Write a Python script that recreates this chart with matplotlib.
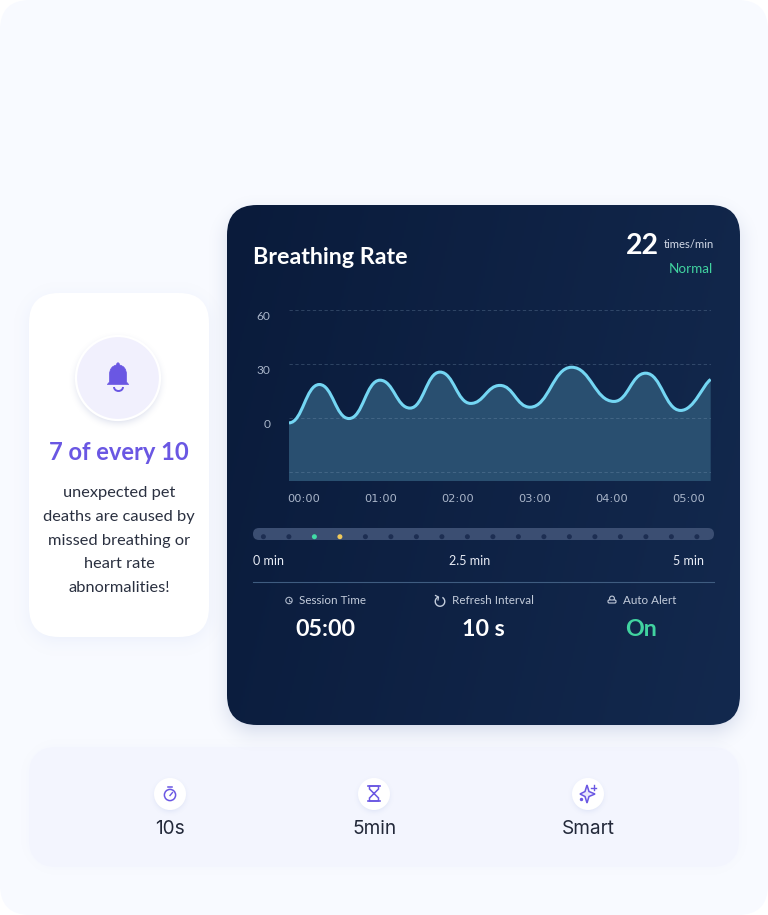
import numpy as np
import matplotlib
matplotlib.use("Agg")
import matplotlib.pyplot as plt
from matplotlib.patches import FancyBboxPatch, Circle, PathPatch, Arc, Polygon
from matplotlib.path import Path
from matplotlib.transforms import ScaledTranslation

# curve extrema (minutes, breaths value)
time_min = [-0.195, 0.199, 0.584, 0.987, 1.377, 1.766, 2.165, 2.545, 2.935, 3.476, 4.026, 4.437, 4.892, 5.282]
rate = [-2.7, 18.6, -0.3, 21.0, 5.5, 25.5, 8.1, 18.1, 6.0, 28.2, 9.2, 24.9, 4.2, 21.4]

y_ticks = [60, 30, 0, -30]
y_labels = ["60", "30", "0", ""]
x_ticks = [0, 1, 2, 3, 4, 5]
x_labels = ["00:00", "01:00", "02:00", "03:00", "04:00", "05:00"]

body_lines = ["unexpected pet", "deaths are caused by", "missed breathing or", "heart rate", "abnormalities!"]
stat_names = ["Session Time", "Refresh Interval", "Auto Alert"]
stat_values = ["05:00", "10 s", "On"]
feature_labels = ["10s", "5min", "Smart"]
slider_labels = ["0 min", "2.5 min", "5 min"]
dot_colors = ["#1d2e52", "#1d2e52", "#41dba6", "#f0c95a"] + ["#1d2e52"] * 14

W, H = 768, 915
PURPLE = "#6a57e3"
GREEN = "#41d3a0"
FONT = "Lato"

fig = plt.figure(figsize=(W / 100, H / 100), dpi=100, facecolor="white")
ax = fig.add_axes([0, 0, 1, 1])
ax.axis("off")


def rbox(x, y, w, h, r, **kw):
    p = FancyBboxPatch((x, y), w, h, boxstyle=f"round,pad=0,rounding_size={r}", linewidth=0, **kw)
    ax.add_patch(p)
    return p


def shadow(x, y, w, h, r, blur, alpha, color, zorder):
    xx, yy = np.meshgrid(np.arange(W) + 0.5, np.arange(H) + 0.5)
    dx = np.abs(xx - (x + w / 2)) - (w / 2 - r)
    dy = np.abs(yy - (y + h / 2)) - (h / 2 - r)
    sd = np.hypot(np.maximum(dx, 0), np.maximum(dy, 0)) + np.minimum(np.maximum(dx, dy), 0) - r
    a = np.clip(1 - (sd + blur * 0.3) / blur, 0, 1) ** 2 * alpha
    img = np.zeros((H, W, 4))
    img[..., :3] = matplotlib.colors.to_rgb(color)
    img[..., 3] = a
    ax.imshow(img, extent=(0, W, H, 0), aspect="auto", zorder=zorder, interpolation="bilinear")


def label(x, y, s, size, color, weight="normal", ha="center", family=FONT, zorder=10):
    ax.text(x, y, s, fontsize=size * 0.72, color=color, fontweight=weight, ha=ha, va="center_baseline",
            family=family, zorder=zorder)


rbox(0, 0, W, H, 30, facecolor="#f8faff", zorder=0)

# bottom panel
shadow(29, 747, 710, 120, 28, 16, 0.10, "#c9d4f5", 1)
rbox(29, 747, 710, 120, 28, facecolor="#f3f5fe", zorder=1.1)

# left card
shadow(29, 297, 180, 344, 30, 26, 0.35, "#d5def5", 2)
rbox(29, 293, 180, 344, 30, facecolor="white", zorder=2.1)

# main card
shadow(227, 213, 513, 520, 30, 30, 0.45, "#b4bed8", 3)
card = rbox(227, 205, 513, 520, 30, facecolor="none", zorder=3.1)
gx, gy = np.meshgrid(np.linspace(0, 1, 256), np.linspace(0, 1, 256))
grad = ax.imshow(0.8 * gx + 0.2 * gy, extent=(227, 740, 725, 205), aspect="auto", zorder=3.1,
                 cmap=matplotlib.colors.LinearSegmentedColormap.from_list("card", ["#0a1b3b", "#13294e"]),
                 vmin=0, vmax=1, interpolation="bilinear")
grad.set_clip_path(card)

# bell badge
shadow(75, 338, 86, 86, 43, 10, 0.55, "#cfd4e6", 3.9)
ax.add_patch(Circle((118, 378), 42, facecolor="#f1f0fd", edgecolor="white", linewidth=1.6, zorder=4.1))
bell = Path([(107.3, 384.5), (109.5, 382), (109.5, 380), (109.5, 375), (109.5, 369), (112, 366), (116.5, 365),
             (116.5, 362), (119.5, 362), (119.5, 365), (124, 366), (126.5, 369), (126.5, 375), (126.5, 380),
             (126.5, 382), (128.7, 384.5), (107.3, 384.5)],
            [Path.MOVETO, Path.LINETO, Path.LINETO, Path.LINETO, Path.CURVE4, Path.CURVE4, Path.CURVE4,
             Path.CURVE4, Path.CURVE4, Path.CURVE4, Path.CURVE4, Path.CURVE4, Path.CURVE4, Path.LINETO,
             Path.LINETO, Path.LINETO, Path.CLOSEPOLY])
ax.add_patch(PathPatch(bell, facecolor=PURPLE, edgecolor=PURPLE, linewidth=0.5, zorder=5))
ax.add_patch(Arc((118.5, 387), 9, 8, theta1=0, theta2=180, color=PURPLE, linewidth=1.4, zorder=5))

label(119, 450, "7 of every 10", 23.7, PURPLE, weight="bold")
for yy, line in zip([491, 515, 539, 563, 587], body_lines):
    label(119, yy, line, 16.4, "#2a3040")

# feature row
for cx, txt in zip([170, 374, 588], feature_labels):
    shadow(cx - 16, 780, 32, 32, 16, 7, 0.5, "#d3daf3", 4)
    ax.add_patch(Circle((cx, 794), 16, facecolor="white", edgecolor="none", zorder=4.5))
    label(cx, 826.5, txt, 19, "#23293a", family="Inter")

ax.add_patch(Circle((170, 795), 5.6, facecolor="none", edgecolor=PURPLE, linewidth=1.1, zorder=5))
ax.plot([168, 172], [786.5, 786.5], color=PURPLE, lw=1.1, zorder=5)
ax.plot([170, 172.5], [795.5, 792.5], color=PURPLE, lw=1.0, zorder=5)
ax.plot([368, 380], [786, 786], color=PURPLE, lw=1.2, zorder=5)
ax.plot([368, 380], [801, 801], color=PURPLE, lw=1.2, zorder=5)
ax.add_patch(Polygon([(369.5, 786), (378.5, 786), (378.5, 789), (369.5, 798), (369.5, 801), (378.5, 801),
                      (378.5, 798), (369.5, 789)], closed=True, facecolor="none", edgecolor=PURPLE,
                     linewidth=1.1, zorder=5))
star = [(587, 785), (589, 791.5), (595, 794), (589, 796.5), (587, 803), (585, 796.5), (580, 794), (585, 791.5)]
ax.add_patch(Polygon(star, closed=True, facecolor="#e9e7fb", edgecolor=PURPLE, linewidth=1.1, zorder=5))
ax.plot([593.5, 593.5], [785, 790], color=PURPLE, lw=1.0, zorder=5)
ax.plot([591, 596], [787.5, 787.5], color=PURPLE, lw=1.0, zorder=5)
ax.add_patch(Circle((581.5, 799.5), 1.0, color=PURPLE, zorder=5))

# card header
label(253, 256, "Breathing Rate", 23.2, "white", weight="bold", ha="left")
label(659, 243, "22", 28.5, "white", weight="bold", ha="right")
label(714, 243, "times/min", 11.2, "#d3dae8", ha="right")
label(713.5, 268, "Normal", 13.5, GREEN, ha="right")

# slider
rbox(253, 528, 461, 12, 6, facecolor="#3b4e72", zorder=4)
for i, c in enumerate(dot_colors):
    ax.add_patch(Circle((263.4 + 25.5 * i, 536.7), 2.5, facecolor=c, edgecolor="none", zorder=5))
for xx, s, a in zip([253, 469.5, 704], slider_labels, ["left", "center", "right"]):
    label(xx, 560, s, 12.5, "#e8ecf5", ha=a)
ax.plot([253, 714], [582, 582], color="#3f5c80", lw=0.8, zorder=5)

# stats row
for xx, s in zip([299, 452, 623], stat_names):
    label(xx, 600, s, 11.6, "#c3ccdb", ha="left")
for xx, s, c in zip([325, 483, 641], stat_values, ["white", "white", GREEN]):
    label(xx, 627, s, 23.3, c, weight="bold")
ax.add_patch(Circle((289, 600.5), 3.2, facecolor="none", edgecolor="#aab5c8", linewidth=0.8, zorder=5))
ax.plot([289, 289, 291], [598.5, 600.5, 600.5], color="#aab5c8", lw=0.6, zorder=5)
ax.add_patch(Arc((440, 601.5), 9.5, 9.5, theta1=-60, theta2=250, color="#c3ccdb", linewidth=1.0, zorder=5))
ax.plot([435.5, 438.5, 438], [595.5, 597, 600], color="#c3ccdb", lw=0.9, zorder=5)
ax.add_patch(Circle((612, 598.5), 2.4, facecolor="none", edgecolor="#c3ccdb", linewidth=0.8, zorder=5))
ax.add_patch(FancyBboxPatch((608, 600), 8, 3, boxstyle="round,pad=0,rounding_size=1.2", facecolor="#10234a",
                            edgecolor="#c3ccdb", linewidth=0.8, zorder=5.1))

ax.set_xlim(0, W)
ax.set_ylim(H, 0)

# breathing chart
chart = fig.add_axes([289 / W, 1 - 481 / H, 422 / W, 171 / H])
chart.patch.set_alpha(0)
for s in chart.spines.values():
    s.set_visible(False)
chart.set_xlim(-0.195, 5.286)
chart.set_ylim(-35, 60)

verts = [(time_min[0], rate[0])]
codes = [Path.MOVETO]
for i in range(len(time_min) - 1):
    x0, y0, x1, y1 = time_min[i], rate[i], time_min[i + 1], rate[i + 1]
    dx = x1 - x0
    last = i == len(time_min) - 2
    verts += [(x0 + 0.45 * dx, y0), (x1 - (0.25 if last else 0.45) * dx, y1 - (2.5 if last else 0)), (x1, y1)]
    codes += [Path.CURVE4] * 3
fill_verts = verts + [(time_min[-1], -35), (time_min[0], -35), verts[0]]
fill_codes = codes + [Path.LINETO, Path.LINETO, Path.CLOSEPOLY]
chart.add_patch(PathPatch(Path(fill_verts, fill_codes), facecolor="#294f70", edgecolor="none", zorder=1))
chart.add_patch(PathPatch(Path(verts, codes), facecolor="none", edgecolor="#74d6f3", linewidth=2.2, zorder=3,
                          capstyle="butt"))

chart.set_yticks(y_ticks, y_labels, fontsize=8.6, color="#a9b5c9", family=FONT)
chart.set_xticks(x_ticks, x_labels, fontsize=8.2, color="#a9b5c9", family="DejaVu Sans")
chart.tick_params(length=0)
chart.tick_params(axis="y", pad=13.5)
chart.tick_params(axis="x", pad=9)
for lab in chart.get_yticklabels():
    lab.set_transform(lab.get_transform() + ScaledTranslation(0, -5.5 / 72 * 0.72, fig.dpi_scale_trans))
chart.grid(True, axis="y", linestyle=(0, (4, 3)), linewidth=0.6, color="#7f9cb8", alpha=0.35)
chart.set_axisbelow("line")

fig.savefig("out.png", dpi=100)
